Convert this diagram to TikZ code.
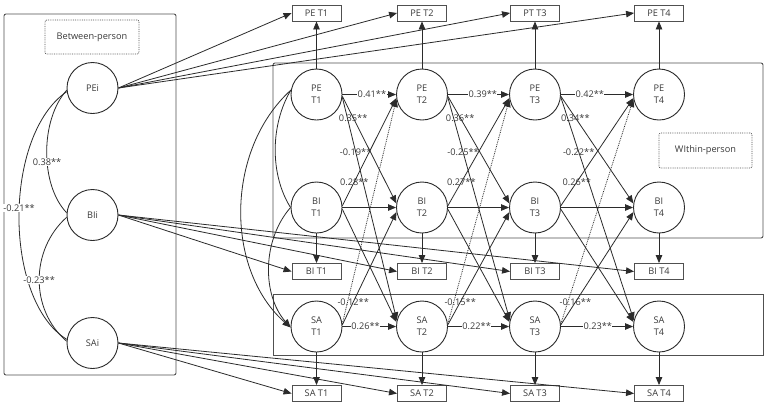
\documentclass[tikz,border=0pt]{standalone}
\usepackage{fontspec}
\setmainfont{Open Sans}
\usetikzlibrary{arrows.meta}
\definecolor{ln}{HTML}{2B2B2B}
\definecolor{txt}{HTML}{3A3A3A}
\definecolor{frm}{HTML}{505050}
\begin{document}
\begin{tikzpicture}[x=1pt,y=-1pt,
  every node/.style={font=\fontsize{9.2}{12}\selectfont, text=txt},
  lat/.style={circle, draw=ln, line width=0.9pt, fill=white, minimum size=51pt, inner sep=0pt, align=center},
  obs/.style={rectangle, draw=frm, line width=0.9pt, fill=white, minimum width=49pt, minimum height=16pt, inner sep=0pt},
  dbox/.style={rectangle, draw=frm, densely dotted, line width=0.8pt, rounded corners=2pt, inner sep=0pt},
  frame/.style={draw=frm, line width=0.9pt},
  lnk/.style={draw=ln, line width=0.8pt},
  arr/.style={lnk, -{Triangle[length=8pt,width=6.5pt]}},
  lbl/.style={inner sep=0.5pt},
  lblw/.style={lbl, fill=white}
]
\useasboundingbox (0,0) rectangle (767,405);
\fill[white] (0,0) rectangle (767,405);

% panels
\draw[frame, rounded corners=2pt] (4,14) rectangle (176,375);
\draw[frame, rounded corners=2pt] (273,63) rectangle (763,238);
\draw[frame] (273,294) rectangle (763,355);

\node[dbox, minimum width=94pt, minimum height=34pt] (bp) at (92,37) {Between-person};
\node[dbox, minimum width=93pt, minimum height=35pt] (wp) at (705.5,150.5) {WIthin-person};

% between-person latents
\node[lat] (PEi) at (92.5,88) {PEi};
\node[lat] (BIi) at (92.5,215) {BIi};
\node[lat] (SAi) at (92.5,343) {SAi};

% within-person latents
\foreach \k/\x in {1/316.5,2/422,3/535,4/659} {
  \node[lat] (PE\k) at (\x,94.5) {PE\\T\k};
  \node[lat] (BI\k) at (\x,207.5) {BI\\T\k};
  \node[lat] (SA\k) at (\x,326.5) {SA\\T\k};
  \node[obs] (oBI\k) at (\x,271.5) {BI T\k};
  \node[obs] (oSA\k) at (\x,393.5) {SA T\k};
}
\node[obs] (oPE1) at (316.5,13) {PE T1};
\node[obs] (oPE2) at (422,13) {PE T2};
\node[obs] (oPE3) at (535,13) {PT T3};
\node[obs] (oPE4) at (659,13) {PE T4};

% fan-out from intercepts and measurement arrows
\foreach \k in {1,...,4} {
  \draw[arr] (PEi.east) -- (oPE\k.west);
  \draw[arr] (BIi.east) -- (oBI\k.west);
  \draw[arr] (SAi.east) -- (oSA\k.west);
  \draw[arr] (PE\k) -- (oPE\k);
  \draw[arr] (BI\k) -- (oBI\k);
  \draw[arr] (SA\k) -- (oSA\k);
}

% between-person correlations
\draw[lnk] (PEi.185) .. controls (40,120) and (40,185) .. node[lblw,pos=.57] (c1) {0.38**} (BIi.175);
\draw[lnk] (PEi.188) .. controls (3,135) and (3,300) .. node[lblw,pos=.47] (c2) {-0.21**} (SAi.172);
\draw[lnk] (BIi.185) .. controls (30,250) and (30,310) .. node[lblw,pos=.5] (c3) {-0.23**} (SAi.176);

% within-person T1 correlations
\draw[lnk] (PE1.170) .. controls (270,125) and (270,175) .. (BI1.west);
\draw[arr] (PE1.170) .. controls (225,150) and (225,270) .. (SA1.182);
\draw[arr] (BI1.west) .. controls (262,240) and (262,295) .. (SA1.182);

% autoregressive paths
\draw[arr] (PE1) -- node[lblw,pos=.55] (a1) {0.41**} (PE2);
\draw[arr] (PE2) -- node[lblw,pos=.57] (a2) {0.39**} (PE3);
\draw[arr] (PE3) -- node[lblw,pos=.40] (a3) {0.42**} (PE4);
\draw[arr] (BI1) -- (BI2);
\draw[arr] (BI2) -- (BI3);
\draw[arr] (BI3) -- (BI4);
\draw[arr] (SA1) -- node[lblw,pos=.43] (s1) {0.26**} (SA2);
\draw[arr] (SA2) -- node[lblw,pos=.47] (s2) {0.22**} (SA3);
\draw[arr] (SA3) -- node[lblw,pos=.51] (s3) {0.23**} (SA4);

% cross-lagged paths
\foreach \a/\b/\pb/\ps/\bp/\sb in {1/2/0.35**/-0.19**/0.28**/-0.12**, 2/3/0.36**/-0.25**/0.27**/-0.15**, 3/4/0.34**/-0.22**/0.26**/-0.16**} {
  \draw[arr] (PE\a.-4) -- node[lbl,pos=.2] (pb\a) {\pb} (BI\b.171);
  \draw[arr] (PE\a.-6) -- node[lbl,pos=.245] (ps\a) {\ps} (SA\b.166);
  \draw[arr] (BI\a.4) -- node[lbl,pos=.22] (bp\a) {\bp} (PE\b.188);
  \draw[arr] (BI\a.-4) -- (SA\b.170);
  \draw[arr] (SA\a.4) -- node[lbl,pos=.2] (sb\a) {\sb} (BI\b.190);
  \draw[arr, densely dotted] (SA\a.6) -- (PE\b.190);
}
\end{tikzpicture}
\end{document}
